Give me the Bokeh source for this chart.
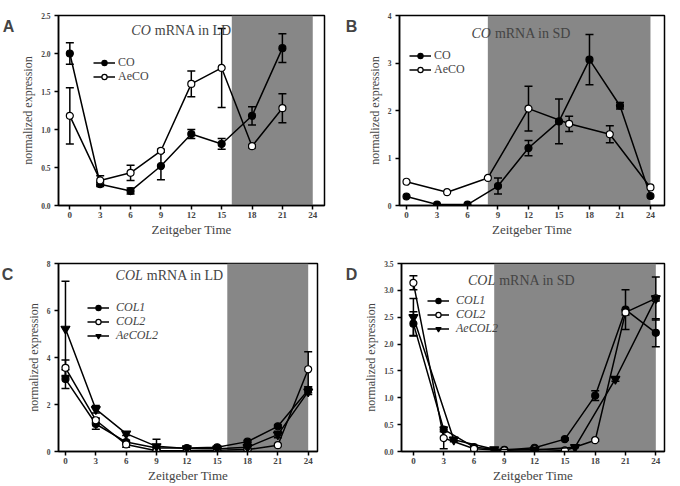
from bokeh.plotting import figure
from bokeh.models import (ColumnDataSource, Whisker, BoxAnnotation, Legend, LegendItem,
                          Label, FixedTicker, PrintfTickFormatter, Range1d, TeeHead)
from bokeh.layouts import column, row
from bokeh.embed import file_html
from bokeh.resources import INLINE

# ---------------- data ----------------
x_ticks = [0, 3, 6, 9, 12, 15, 18, 21, 24]
ld_dark = (16, 24)
sd_dark = (8, 24)

# A: CO mRNA in LD
zt_ld = [0, 3, 6, 9, 12, 15, 18, 21]
co_ld = [2.00, 0.28, 0.19, 0.52, 0.94, 0.81, 1.18, 2.07]
co_ld_err = [0.14, 0.03, 0.04, 0.18, 0.06, 0.07, 0.12, 0.19]
aeco_ld = [1.18, 0.33, 0.43, 0.72, 1.60, 1.81, 0.78, 1.28]
aeco_ld_err = [0.37, 0.06, 0.10, 0.02, 0.17, 0.52, 0.02, 0.19]
a_yticks = [0.0, 0.5, 1.0, 1.5, 2.0, 2.5]

# B: CO mRNA in SD
zt_sd_co = [0, 3, 6, 9, 12, 15, 18, 21, 24]
co_sd = [0.19, 0.02, 0.02, 0.41, 1.21, 1.77, 3.07, 2.10, 0.20]
co_sd_err = [0, 0, 0, 0.17, 0.16, 0.47, 0.53, 0.07, 0]
zt_sd_aeco = [0, 4, 8, 12, 16, 20, 24]
aeco_sd = [0.50, 0.28, 0.58, 2.04, 1.72, 1.50, 0.38]
aeco_sd_err = [0, 0, 0, 0.47, 0.16, 0.18, 0]
b_yticks = [0, 1, 2, 3, 4]

# C: COL mRNA in LD
zt_col_ld = [0, 3, 6, 9, 12, 15, 18, 21, 24]
col1_ld = [3.08, 1.17, 0.40, 0.15, 0.15, 0.18, 0.42, 1.07, 2.62]
col1_ld_err = [0.40, 0.22, 0.08, 0.05, 0.03, 0.03, 0.05, 0.06, 0.12]
col2_ld = [3.56, 1.33, 0.30, 0.03, 0.03, 0.05, 0.08, 0.27, 3.50]
col2_ld_err = [0.33, 0.10, 0.12, 0.02, 0.01, 0.01, 0.02, 0.04, 0.74]
aecol2_ld = [5.22, 1.80, 0.76, 0.22, 0.13, 0.12, 0.18, 0.72, 2.55]
aecol2_ld_err = [2.03, 0.16, 0.08, 0.30, 0.03, 0.03, 0.04, 0.14, 0.12]
c_yticks = [0, 2, 4, 6, 8]

# D: COL mRNA in SD
zt_col_sd = [0, 3, 6, 9, 12, 15, 18, 21, 24]
col1_sd = [2.38, 0.41, 0.08, 0.03, 0.07, 0.23, 1.04, 2.64, 2.21]
col1_sd_err = [0.22, 0.04, 0.01, 0.01, 0.01, 0.02, 0.09, 0.37, 0.26]
col2_sd = [3.14, 0.25, 0.05, 0.02, 0.04, 0.02, 0.21, 2.59, 2.85]
col2_sd_err = [0.13, 0.20, 0.01, 0.01, 0.01, 0.01, 0.02, 0.05, 0.05]
zt_aecol2_sd = [0, 4, 8, 12, 16, 20, 24]
aecol2_sd = [2.50, 0.22, 0.04, 0.03, 0.08, 1.35, 2.85]
aecol2_sd_err = [0.35, 0.04, 0.01, 0.01, 0.01, 0.04, 0.40]
d_yticks = [0.0, 0.5, 1.0, 1.5, 2.0, 2.5, 3.0, 3.5]

SERIF = "Liberation Serif"
SANS = "Liberation Sans"
SHADE = "#878787"


def make_fig(width, height, bl, br, bt, bb, xr, yr, yticks, yfmt):
    p = figure(width=width, height=height, output_backend="svg", toolbar_location=None,
               x_range=Range1d(*xr), y_range=Range1d(*yr),
               min_border_left=bl, min_border_right=br, min_border_top=bt, min_border_bottom=bb)
    p.grid.visible = False
    p.outline_line_color = "black"
    p.outline_line_width = 1.5
    p.background_fill_color = "white"
    p.border_fill_color = "white"
    for ax in (p.xaxis[0], p.yaxis[0]):
        ax.axis_line_width = 1.5
        ax.major_tick_line_width = 1.5
        ax.major_tick_out = 4
        ax.major_tick_in = 0
        ax.minor_tick_line_color = None
        ax.major_label_text_font = SERIF
        ax.major_label_text_font_style = "bold"
        ax.axis_label_text_font = SERIF
        ax.axis_label_text_font_style = "normal"
    p.xaxis.ticker = FixedTicker(ticks=x_ticks)
    p.xaxis.major_label_text_font_size = "9px"
    p.xaxis.major_label_standoff = 2
    p.xaxis.axis_label = "Zeitgeber Time"
    p.xaxis.axis_label_text_font_size = "13px"
    p.xaxis.axis_label_standoff = 1
    p.yaxis.ticker = FixedTicker(ticks=yticks)
    if yfmt:
        p.yaxis.formatter = PrintfTickFormatter(format=yfmt)
    p.yaxis.major_label_text_font_size = "7.5px"
    p.yaxis.major_label_standoff = 4
    p.yaxis.axis_label = "normalized expression"
    p.yaxis.axis_label_text_font_size = "12px"
    p.yaxis.axis_label_standoff = 3
    return p


def letter_fig(width, height, cx, cy_from_top, t):
    f = figure(width=width, height=height, output_backend="svg", toolbar_location=None,
               x_range=Range1d(0, width), y_range=Range1d(0, height),
               min_border=0, min_border_left=0, min_border_right=0,
               min_border_top=0, min_border_bottom=0,
               x_axis_location=None, y_axis_location=None)
    f.grid.visible = False
    f.outline_line_color = None
    f.add_layout(Label(x=cx, y=height - cy_from_top, text=t, text_align="center",
                       text_baseline="middle", text_font=SANS, text_font_size="16px",
                       text_font_style="bold"))
    return f


def add_series(p, x, y, err, marker, fill, size):
    src = ColumnDataSource(dict(x=x, y=y))
    ln = p.line("x", "y", source=src, line_color="black", line_width=1.5)
    ex = [xi for xi, e in zip(x, err) if e > 0]
    up = [yi + e for yi, e in zip(y, err) if e > 0]
    lo = [yi - e for yi, e in zip(y, err) if e > 0]
    wsrc = ColumnDataSource(dict(x=ex, upper=up, lower=lo))
    w = Whisker(source=wsrc, base="x", upper="upper", lower="lower",
                line_color="black", line_width=1.5,
                upper_head=TeeHead(size=8, line_width=1.5, line_color="black"),
                lower_head=TeeHead(size=8, line_width=1.5, line_color="black"))
    p.add_layout(w)
    sc = p.scatter("x", "y", source=src, marker=marker, size=size,
                   fill_color=fill, line_color="black", line_width=1.2)
    return [ln, sc]


def add_legend(p, items, x, ys, italic, standoff):
    # one single-row legend per entry so that the row spacing matches the original
    for (lab, rends), y in zip(items, ys):
        leg = Legend(items=[LegendItem(label=lab, renderers=rends)],
                     location=(x, y), border_line_color=None, background_fill_alpha=0,
                     padding=0, margin=0, spacing=0, glyph_width=22, glyph_height=13,
                     label_height=13, label_standoff=standoff,
                     label_text_font=SERIF, label_text_font_size="12px",
                     label_text_font_style="italic" if italic else "normal")
        p.add_layout(leg)


def add_title(p, xsplit, y, ital, rest):
    p.add_layout(Label(x=xsplit, y=y, text=ital, text_align="right", text_baseline="middle",
                       text_font=SERIF, text_font_size="14px", text_font_style="italic"))
    p.add_layout(Label(x=xsplit, y=y, x_offset=4, text=rest, text_align="left",
                       text_baseline="middle", text_font=SERIF, text_font_size="14px"))


def shade(p, span):
    p.add_layout(BoxAnnotation(left=span[0], right=span[1], fill_color=SHADE,
                               fill_alpha=1, line_color=None, level="underlay"))


TOP_H = 243
BOT_H = 242

# ---------------- panel A ----------------
pA = make_fig(324, TOP_H, 42, 16, 15, 38, (-1.12, 25.16), (0, 2.5), a_yticks, "%.1f")
shade(pA, ld_dark)
rA1 = add_series(pA, zt_ld, co_ld, co_ld_err, "circle", "black", 7)
rA2 = add_series(pA, zt_ld, aeco_ld, aeco_ld_err, "circle", "white", 7)
add_legend(pA, [("CO", rA1), ("AeCO", rA2)], 35, [135, 121], False, 3)
add_title(pA, 8.0, 2.30, "CO", "mRNA in LD")

# ---------------- panel B ----------------
pB = make_fig(319, TOP_H, 38, 16, 15, 38, (-0.69, 25.38), (0, 4), b_yticks, None)
shade(pB, sd_dark)
rB1 = add_series(pB, zt_sd_co, co_sd, co_sd_err, "circle", "black", 7)
rB2 = add_series(pB, zt_sd_aeco, aeco_sd, aeco_sd_err, "circle", "white", 7)
add_legend(pB, [("CO", rB1), ("AeCO", rB2)], 10, [142, 128], False, 3)
add_title(pB, 8.3, 3.62, "CO", "mRNA in SD")

# ---------------- panel C ----------------
pC = make_fig(324, BOT_H, 42, 23, 20, 33, (-0.69, 24.92), (0, 8), c_yticks, None)
shade(pC, ld_dark)
rC1 = add_series(pC, zt_col_ld, col1_ld, col1_ld_err, "circle", "black", 7)
rC2 = add_series(pC, zt_col_ld, col2_ld, col2_ld_err, "circle", "white", 7)
rC3 = add_series(pC, zt_col_ld, aecol2_ld, aecol2_ld_err, "inverted_triangle", "black", 9)
add_legend(pC, [("COL1", rC1), ("COL2", rC2), ("AeCOL2", rC3)], 29, [136, 122, 108], True, 7)
add_title(pC, 7.65, 7.5, "COL", "mRNA in LD")

# ---------------- panel D ----------------
pD = make_fig(319, BOT_H, 37, 16, 20, 33, (-1.18, 24.86), (0, 3.5), d_yticks, "%.1f")
shade(pD, sd_dark)
rD1 = add_series(pD, zt_col_sd, col1_sd, col1_sd_err, "circle", "black", 7)
rD2 = add_series(pD, zt_col_sd, col2_sd, col2_sd_err, "circle", "white", 7)
rD3 = add_series(pD, zt_aecol2_sd, aecol2_sd, aecol2_sd_err, "inverted_triangle", "black", 9)
add_legend(pD, [("COL1", rD1), ("COL2", rD2), ("AeCOL2", rD3)], 26, [143, 129, 115], True, 7)
add_title(pD, 8.1, 3.18, "COL", "mRNA in SD")

lA = letter_fig(16, TOP_H, 8, 13.5, "A")
lB = letter_fig(21, TOP_H, 11, 13.5, "B")
lC = letter_fig(16, BOT_H, 7, 14, "C")
lD = letter_fig(21, BOT_H, 11, 14, "D")

layout = column(row(lA, pA, lB, pB), row(lC, pC, lD, pD))
open("out.html", "w").write(file_html(layout, INLINE))
